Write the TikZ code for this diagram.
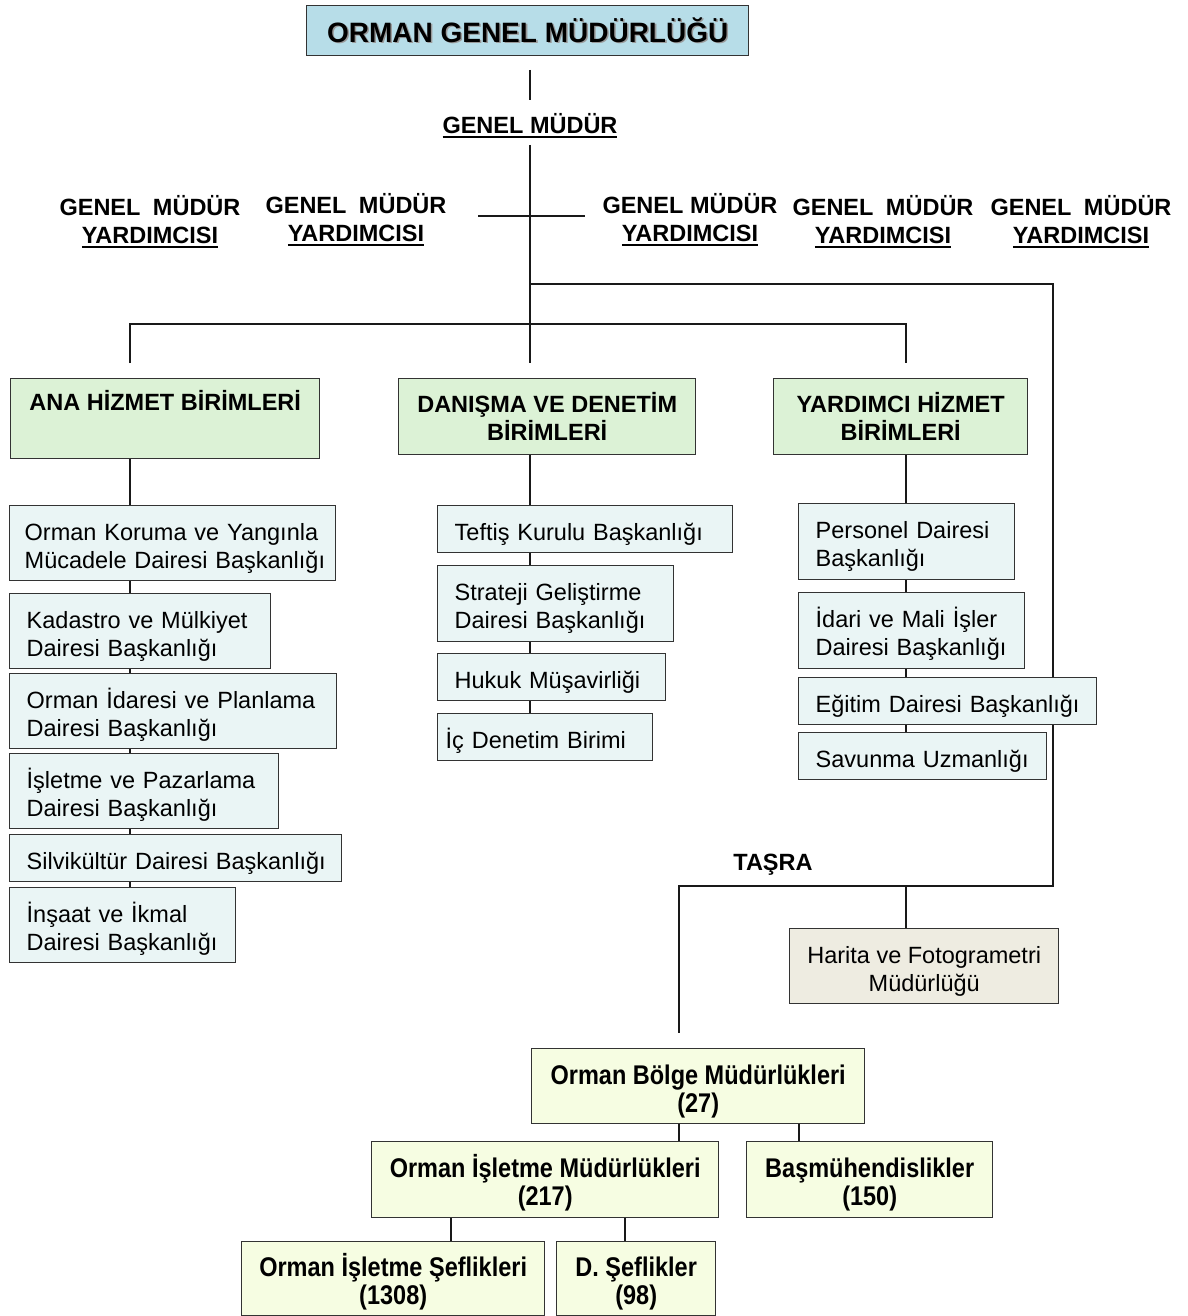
\documentclass[tikz,border=0pt]{standalone}
\usepackage{fontspec}
\setmainfont{Liberation Sans}
\usepackage{graphicx}
\usetikzlibrary{backgrounds}
\definecolor{titlefill}{HTML}{B7DDE8}
\definecolor{headfill}{HTML}{DCF2D6}
\definecolor{unitfill}{HTML}{EAF5F5}
\definecolor{mapfill}{HTML}{EEECE1}
\definecolor{provfill}{HTML}{F6FDE2}
\newcommand\fs{\fontsize{23.5}{28}\selectfont}
\newcommand\myul[1]{\setbox0\hbox{#1}\makebox[0pt][l]{\rule[-4.5pt]{\wd0}{2.2pt}}\box0}
\newcommand\tall[1]{\scalebox{1}[1.15]{#1}}
\newcommand\shadowtext[1]{\makebox[0pt][l]{\hspace{1.6pt}\raisebox{-1.6pt}{\color{black!40}#1}}#1}
\newcommand\hs{\rule{0pt}{29pt}}
\newcommand\hp{\rule{0pt}{31pt}}
\newcommand\ds{\rule[-7pt]{0pt}{0pt}}
\tikzset{
  box/.style={draw=black!80, line width=1.4pt, rectangle, inner xsep=8pt, inner ysep=4pt, anchor=north west, font=\fs},
  unit/.style={box, fill=unitfill, align=left, inner xsep=17pt},
  head/.style={box, fill=headfill, align=center, font=\fs\bfseries},
  mapbox/.style={box, fill=mapfill, align=center},
  prov/.style={box, fill=provfill, align=center, font=\fs\bfseries},
  titlebox/.style={box, fill=titlefill, align=center, font=\fontsize{28}{32}\selectfont\bfseries},
  lbl/.style={align=center, font=\fs\bfseries, inner sep=0pt},
  conn/.style={line width=1.3pt, black!90}
}
\begin{document}
\begin{tikzpicture}[x=1pt, y=-1pt]
\useasboundingbox (0,0) rectangle (1187,1316);

% title and labels
\node[titlebox, minimum width=442pt, minimum height=50pt] (title) at (306,5) {\shadowtext{ORMAN GENEL MÜDÜRLÜĞÜ}};
\node[lbl] (gm) at (530,126) {\myul{GENEL MÜDÜR}};
\node[lbl] (y1) at (150,222) {GENEL\hspace{12.5pt}MÜDÜR\\\myul{YARDIMCISI}};
\node[lbl] (y2) at (356,220) {GENEL\hspace{12.5pt}MÜDÜR\\\myul{YARDIMCISI}};
\node[lbl] (y3) at (690,220) {GENEL MÜDÜR\\\myul{YARDIMCISI}};
\node[lbl] (y4) at (883,222) {GENEL\hspace{12.5pt}MÜDÜR\\\myul{YARDIMCISI}};
\node[lbl] (y5) at (1081,222) {GENEL\hspace{12.5pt}MÜDÜR\\\myul{YARDIMCISI}};
\node[lbl] (tasra) at (773,865) {TAŞRA};

% head boxes
\node[head, minimum width=309pt, minimum height=80pt] (ana) at (10,378) {ANA HİZMET BİRİMLERİ\\\strut};
\node[head, minimum width=297pt, minimum height=76pt] (dan) at (398,378) {DANIŞMA VE DENETİM\\BİRİMLERİ};
\node[head, minimum width=254pt, minimum height=76pt] (yar) at (773,378) {YARDIMCI HİZMET\\BİRİMLERİ};

% left column
\node[unit, text width=296pt, minimum height=75pt, inner xsep=15pt] (ork) at (9,505) {\mbox{\hs Orman Koruma ve Yangınla}\\\mbox{Mücadele Dairesi Başkanlığı\ds}};
\node[unit, text width=227pt, minimum height=75pt] (kad) at (9,593) {\mbox{\hs Kadastro ve Mülkiyet}\\\mbox{Dairesi Başkanlığı\ds}};
\node[unit, text width=293pt, minimum height=75pt] (oip) at (9,673) {\mbox{\hs Orman İdaresi ve Planlama}\\\mbox{Dairesi Başkanlığı\ds}};
\node[unit, text width=235pt, minimum height=75pt] (ipz) at (9,753) {\mbox{\hs İşletme ve Pazarlama}\\\mbox{Dairesi Başkanlığı\ds}};
\node[unit, text width=298pt, minimum height=47pt] (sil) at (9,834) {\mbox{\hs Silvikültür Dairesi Başkanlığı\ds}};
\node[unit, text width=192pt, minimum height=75pt] (insaat) at (9,887) {\mbox{\hs İnşaat ve İkmal}\\\mbox{Dairesi Başkanlığı\ds}};

% middle column
\node[unit, text width=261pt, minimum height=47pt] (tef) at (437,505) {\mbox{\hs Teftiş Kurulu Başkanlığı\ds}};
\node[unit, text width=202pt, minimum height=76pt] (str) at (437,565) {\mbox{\hs Strateji Geliştirme}\\\mbox{Dairesi Başkanlığı\ds}};
\node[unit, text width=194pt, minimum height=47pt] (huk) at (437,653) {\mbox{\hs Hukuk Müşavirliği\ds}};
\node[unit, text width=199pt, minimum height=47pt, inner xsep=8pt] (icd) at (437,713) {\mbox{\hs İç Denetim Birimi\ds}};

% right column
\node[unit, text width=182pt, minimum height=76pt] (per) at (798,503) {\mbox{\hs Personel Dairesi}\\\mbox{Başkanlığı\ds}};
\node[unit, text width=192pt, minimum height=76pt] (ida) at (798,592) {\mbox{\hs İdari ve Mali İşler}\\\mbox{Dairesi Başkanlığı\ds}};
\node[unit, text width=264pt, minimum height=47pt] (egi) at (798,677) {\mbox{\hs Eğitim Dairesi Başkanlığı\ds}};
\node[unit, text width=214pt, minimum height=47pt] (sav) at (798,732) {\mbox{\hs Savunma Uzmanlığı\ds}};

% provincial
\node[mapbox, minimum width=269pt, minimum height=75pt] (harita) at (789,928) {\hs Harita ve Fotogrametri\\Müdürlüğü\ds};
\node[prov, minimum width=333pt, minimum height=75pt] (bolge) at (531,1048) {\hp\tall{Orman Bölge Müdürlükleri}\\\tall{(27)}\ds};
\node[prov, minimum width=347pt, minimum height=76pt] (isl) at (371,1141) {\hp\tall{Orman İşletme Müdürlükleri}\\\tall{(217)}\ds};
\node[prov, minimum width=246pt, minimum height=76pt] (bas) at (746,1141) {\hp\tall{Başmühendislikler}\\\tall{(150)}\ds};
\node[prov, minimum width=303pt, minimum height=74pt] (sef) at (241,1241) {\hp\tall{Orman İşletme Şeflikleri}\\\tall{(1308)}\ds};
\node[prov, minimum width=159pt, minimum height=74pt] (dsef) at (556,1241) {\hp\tall{D. Şeflikler}\\\tall{(98)}\ds};

% connector points
\coordinate (t1) at (530,70);
\coordinate (t2) at (530,100);
\coordinate (t3) at (530,145);
\coordinate (t4) at (530,363);
\coordinate (x1) at (478,216);
\coordinate (x2) at (585,216);
\coordinate (j1) at (530,284);
\coordinate (r1) at (1053,284);
\coordinate (r2) at (1053,886);
\coordinate (p1) at (679,886);
\coordinate (p2) at (679,1033);
\coordinate (b1) at (130,324);
\coordinate (b2) at (906,324);
\coordinate (b3) at (130,363);
\coordinate (b4) at (906,363);
\coordinate (hm) at (906,886);
\coordinate (k1) at (799,1130);
\coordinate (k2) at (451,1230);
\coordinate (k3) at (625,1230);

\begin{pgfonlayer}{background}
\draw[conn] (t1) -- (t2);
\draw[conn] (t3) -- (t4);
\draw[conn] (x1) -- (x2);
\draw[conn] (j1) -- (r1) -- (r2) -- (p1) -- (p2);
\draw[conn] (b3) -- (b1) -- (b2) -- (b4);
\draw[conn] (hm) -- (hm |- harita.north);
\draw[conn] (b3 |- ana.south) -- (b3 |- insaat.north);
\draw[conn] (t4 |- dan.south) -- (t4 |- icd.north);
\draw[conn] (b4 |- yar.south) -- (b4 |- sav.north);
\draw[conn] (p2 |- bolge.south) -- (p2 |- isl.north);
\draw[conn] (k1 |- bolge.south) -- (k1 |- bas.north);
\draw[conn] (k2 |- isl.south) -- (k2 |- sef.north);
\draw[conn] (k3 |- isl.south) -- (k3 |- dsef.north);
\end{pgfonlayer}
\end{tikzpicture}
\end{document}
